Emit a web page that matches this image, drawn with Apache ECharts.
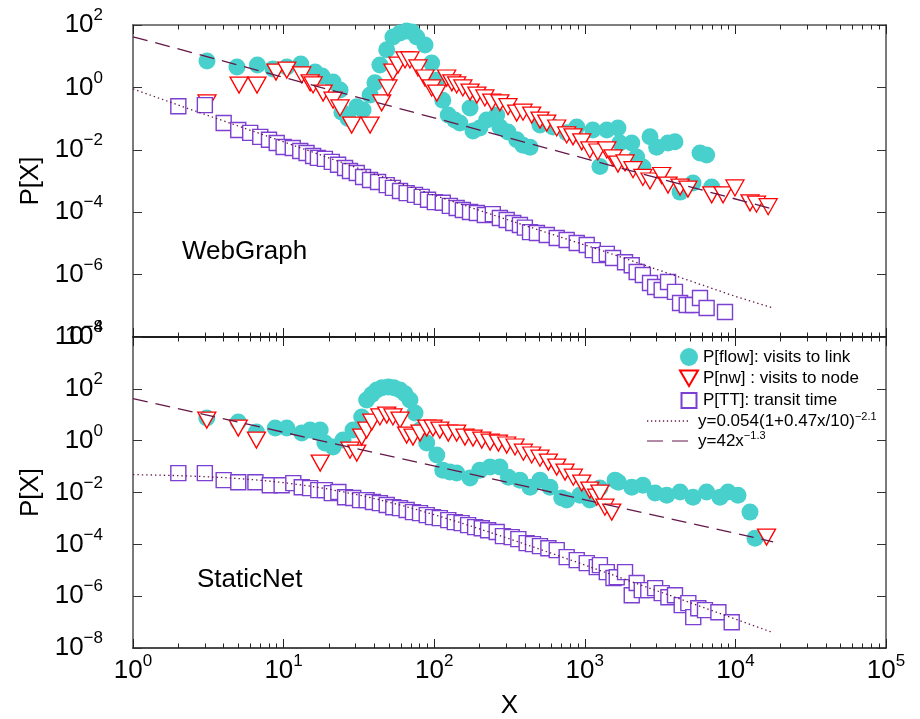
<!DOCTYPE html>
<html>
<head>
<meta charset="utf-8">
<script src="https://cdn.jsdelivr.net/npm/echarts@6/dist/echarts.min.js"></script>
<style>
  html, body { margin: 0; padding: 0; background: #ffffff; }
  #chart { width: 920px; height: 719px; }
</style>
</head>
<body>
<div id="chart"></div>
<script>
// ---------------------------------------------------------------
// Data: [X, P[X]] pairs for each distribution
// ---------------------------------------------------------------

// WebGraph panel
const flowWeb = [
  [3.1,7.0],[4.9,4.5],[6.7,5.2],[8.5,3.9],[10.5,4.5],[13,5.6],[16.2,3.1],[18,2.3],[21.3,1.5],[23.7,0.83],
  [24.4,0.16],[26.8,0.10],[30.6,0.24],[33.7,0.19],[37.5,0.57],[40.4,1.4],[43.6,5.2],[48.4,16],[53.2,41],[59.3,55],
  [65.6,64],[71.2,60],[76.5,41],[86.9,23],[96.2,6.0],[104,1.7],[114,0.39],[124,0.13],[137,0.090],[148,0.072],
  [173,0.22],[181,0.040],[201,0.050],[223,0.090],[260,0.13],[273,0.054],[309,0.037],[353,0.021],[389,0.014],[433,0.012],
  [504,0.062],[615,0.054],[758,0.035],[884,0.054],[1130,0.043],[1260,0.0029],[1400,0.043],[1660,0.050],[1710,0.0165],[2050,0.0165],
  [2210,0.0059],[2430,0.0028],[2710,0.026],[3000,0.012],[3570,0.0165],[3970,0.018],[4290,4.4e-4],[5230,8.6e-4],[5820,0.0079],[6440,0.0068],
  [6960,6.4e-4]
];
const nodeWeb = [
  [3.1,0.32],[5.06,1.19],[6.66,1.19],[8.9,3.1],[10.5,3.6],[13.2,2.5],[15,1.4],[15.7,1.2],[18.3,0.66],[21.3,0.39],
  [23.7,0.22],[28.3,0.062],[37.5,0.062],[44.8,0.32],[49.3,0.96],[53.2,3.1],[57.5,5.2],[64,7.6],[69,7.6],[78,4.2],
  [86.9,2.0],[96.2,0.96],[104,0.66],[121,2.0],[131,1.4],[141,1.2],[155,0.96],[173,0.71],[192,0.57],[217,0.46],
  [241,0.34],[273,0.32],[309,0.24],[353,0.15],[389,0.16],[444,0.13],[504,0.090],[559,0.072],[651,0.050],[758,0.030],
  [835,0.026],[954,0.018],[1080,0.0099],[1220,0.0085],[1400,0.0099],[1540,0.0055],[1660,0.0035],[1850,0.0038],[2090,0.0023],[2430,0.0013],
  [2710,0.0010],[3240,0.0015],[3570,7.4e-4],[4290,6.4e-4],[4840,5.5e-4],[6960,3.6e-4],[8280,3.6e-4],[9930,6.0e-4],[12500,2.0e-4],[13800,1.8e-4],
  [16500,1.5e-4]
];
const transitWeb = [
  [2,0.25],[3,0.27],[4,0.072],[5,0.043],[6,0.035],[7,0.026],[8,0.021],[9,0.0165],[10,0.0123],[11.5,0.0114],
  [12.9,0.0092],[14.2,0.0079],[15.7,0.0063],[16.9,0.0055],[18.8,0.0051],[20.9,0.0041],[23,0.0033],[25.6,0.0026],[27.6,0.0021],[30.6,0.0018],
  [33.7,0.00134],[37.5,0.00108],[42.4,9.3e-4],[48.4,7.4e-4],[53.2,6.0e-4],[59.3,4.8e-4],[65.6,4.1e-4],[74.6,3.6e-4],[82.6,3.1e-4],[91,2.5e-4],
  [101,2.1e-4],[114,2.0e-4],[127,1.6e-4],[141,1.36e-4],[155,1.18e-4],[173,1.01e-4],[192,9.4e-5],[217,8.1e-5],[245,8.7e-5],[273,6.5e-5],
  [303,5.6e-5],[335,4.5e-5],[371,3.9e-5],[400,3.2e-5],[433,2.3e-5],[481,2.15e-5],[559,1.86e-5],[651,1.49e-5],[758,1.29e-5],[884,1.03e-5],
  [1030,8.9e-6],[1130,6.1e-6],[1260,4.2e-6],[1400,4.6e-6],[1540,3.4e-6],[1850,2.5e-6],[2050,2.0e-6],[2210,1.21e-6],[2430,9.7e-7],[2710,5.4e-7],
  [2930,4.0e-7],[3240,3.2e-7],[3570,5.8e-7],[3970,2.8e-7],[4290,1.23e-7],[4750,1.06e-7],[5230,1.06e-7],[5820,1.78e-7],[6440,8.5e-8],[8530,6.3e-8]
];
// transit-time trend drawn through the WebGraph squares
const transitTrendWeb = [[1,0.9],[2,0.27],[10,0.018],[100,3.5e-4],[334,5.0e-5],[1260,6.2e-6],[10000,2.0e-7],[17800,8.5e-8]];

// StaticNet panel
const flowStatic = [
  [3.09,7.5],[5.0,5.2],[6.6,2.15],[8.8,3.06],[10.5,3.06],[13.2,1.96],[15,2.56],[16.6,2.15],[17.5,2.56],[18.8,0.81],
  [21.3,0.57],[24.8,1.05],[28.9,2.56],[33,8.2],[35.6,37],[38.5,60],[41.5,90],[45,110],[49.6,117],[54,110],
  [59.3,90],[64,65],[69,37],[74.6,11.6],[80.5,2.56],[89.2,0.81],[104,0.28],[114,0.073],[127,0.062],[141,0.056],
  [173,0.036],[201,0.073],[235,0.096],[273,0.096],[311,0.039],[371,0.030],[433,0.016],[504,0.030],[587,0.016],[703,0.0061],
  [758,0.0051],[929,0.0079],[1080,0.0051],[1260,0.0148],[1590,0.030],[1670,0.025],[2050,0.016],[2430,0.019],[2930,0.0095],[3500,0.0079],
  [4290,0.0104],[5230,0.0066],[6440,0.0104],[7900,0.0066],[8930,0.0104],[10400,0.0079],[12500,0.00175],[13500,1.73e-4]
];
const nodeStatic = [
  [3.09,6.2],[5.0,3.06],[6.6,1.05],[17.5,0.136],[27.6,0.43],[30.6,0.33],[33,1.38],[35.6,2.56],[38.5,5.2],[43.6,8.2],
  [48.4,9.7],[53.2,8.2],[59.3,6.2],[65.6,1.65],[72.3,1.38],[80.5,1.96],[89.2,3.06],[98.2,3.06],[109,2.56],[124,1.96],
  [141,1.96],[160,1.38],[181,1.26],[207,1.05],[235,0.88],[267,0.81],[303,0.68],[344,0.57],[391,0.36],[444,0.28],
  [504,0.21],[573,0.149],[651,0.096],[739,0.061],[839,0.039],[954,0.023],[1080,0.0124],[1200,0.0066],[1260,0.0095],[1360,0.0027],
  [1510,0.00175],[16100,1.9e-4]
];
const transitStatic = [
  [2,0.056],[3,0.056],[4,0.030],[5,0.025],[6.5,0.025],[8.1,0.019],[9.7,0.019],[11.6,0.023],[13.2,0.016],[15,0.0148],
  [17,0.0124],[18.8,0.0124],[20.9,0.0095],[23.1,0.0104],[25.6,0.0066],[29,0.0061],[32.2,0.0051],[35.6,0.0051],[39.2,0.0043],[43.6,0.0039],
  [48.4,0.0033],[53.5,0.0027],[59.3,0.0025],[65.6,0.0021],[72.3,0.00175],[80.5,0.0016],[89.2,0.00134],[98.2,0.00112],[109,0.00103],[124,8.6e-4],
  [137,7.2e-4],[152,6.6e-4],[168,5.5e-4],[187,4.6e-4],[207,4.2e-4],[228,3.5e-4],[260,3.0e-4],[286,2.07e-4],[327,1.9e-4],[362,1.59e-4],
  [411,1.11e-4],[453,1.02e-4],[504,8.5e-5],[573,7.1e-5],[651,6.0e-5],[758,3.2e-5],[884,2.45e-5],[1030,1.88e-5],[1200,1.32e-5],[1260,1.57e-5],
  [1400,8.5e-6],[1550,5.0e-6],[1630,5.4e-6],[1850,8.5e-6],[2050,1.09e-6],[2210,3.2e-6],[2390,1.71e-6],[2640,1.71e-6],[2930,2.04e-6],[3240,1.31e-6],
  [3590,9.1e-7],[3970,1.09e-6],[4400,4.5e-7],[4870,5.4e-7],[5250,1.55e-7],[5670,3.4e-7],[6280,2.9e-7],[7710,2.4e-7],[9450,9.9e-8]
];

// Fitted curves as given in the legend
const TT_FIT = { a: 0.054, b: 0.47, c: 10, p: -2.1 };   // y = a(1 + b x / c)^p
const POW_FIT = { a: 42, p: -1.3 };                      // y = a x^p
const fitSampleX = [1,1.5,2,3,4,6,8,10,15,20,30,40,60,80,100,150,200,300,500,700,1000,2000,4000,7000,10000,17800];
const powerFitX = [1, 17800];

// Axis ranges
const xRange = [1, 1e5];
const webYRange = [1e-8, 1e2];
const staticYRange = [1e-8, 1e4];
const minorMultipliers = [2,3,4,5,6,7,8,9];

// Legend entries
const NAME_FLOW = 'P[flow]: visits to link';
const NAME_NW = 'P[nw] : visits to node';
const NAME_TT = 'P[TT]: transit time';
const NAME_FIT_TT = 'y=0.054(1+0.47x/10)^-2.1';
const NAME_FIT_POW = 'y=42x^-1.3';
const legendRichText = {};
legendRichText[NAME_FIT_TT] = '{n|y=0.054(1+0.47x/10)}{s|\u22122.1}';
legendRichText[NAME_FIT_POW] = '{n|y=42x}{s|\u22121.3}';

// ---------------------------------------------------------------
const FONT = '"Liberation Sans", Arial, Helvetica, sans-serif';
const C_FLOW = '#48d1cc';
const C_NW = '#ff0000';
const C_TT = '#7b3fd1';
const C_FIT = '#641848';
const FRAME_SIDE = '#7a7a7a';
const FRAME_TOP = '#555555';
const FRAME_BASE = '#111111';

const transitFitStatic = fitSampleX.map(x => [x, TT_FIT.a * Math.pow(1 + TT_FIT.b * x / TT_FIT.c, TT_FIT.p)]);
const powerFit = powerFitX.map(x => [x, POW_FIT.a * Math.pow(x, POW_FIT.p)]);

const minorLogTicks = [];
for (let k = 0; k < 5; k++) minorMultipliers.forEach(m => minorLogTicks.push(k + Math.log10(m)));

// Legend keys for the fitted lines: short strokes in a 41x18 box
function strokeIcon(segments, h) {
  let p = 'path://M0,0M41,18';
  segments.forEach(([x0, w]) => { p += 'M' + x0 + ',' + (9 - h / 2) + 'h' + w + 'v' + h + 'h' + (-w) + 'z'; });
  return p;
}
const dottedSegs = [];
for (let i = 0; i <= 10; i++) dottedSegs.push([i * 4, 1.3]);
const ICON_DOTTED = strokeIcon(dottedSegs, 1.3);
const ICON_DASHED = strokeIcon([[0, 16], [25, 16]], 1.4);

function powerLabel(v) {
  const e = Math.round(Math.log10(v));
  return '{b|10}{s|' + (e < 0 ? '\u2212' + (-e) : String(e)) + '}';
}
const powerRich = {
  b: { fontSize: 26, lineHeight: 36, fontFamily: FONT, color: '#000' },
  s: { fontSize: 17, lineHeight: 17, fontFamily: FONT, color: '#000', verticalAlign: 'top' }
};

function logX(grid, pos, labels, lineColor) {
  const ax = {
    type: 'log', logBase: 10, gridIndex: grid, position: pos, min: xRange[0], max: xRange[1],
    axisLine: { show: true, onZero: false, lineStyle: { color: lineColor, width: 1.5 } },
    axisTick: { show: true, inside: true, length: 9, lineStyle: { color: '#222', width: 1 } },
    splitLine: { show: false },
    axisLabel: { show: false }
  };
  if (labels) {
    ax.axisLabel = { show: true, margin: 5, formatter: powerLabel, rich: powerRich };
    ax.name = 'X';
    ax.nameLocation = 'middle';
    ax.nameGap = 45;
    ax.nameTextStyle = { fontSize: 26, fontFamily: FONT, color: '#000' };
  }
  return ax;
}
function minorX(grid, pos) {
  return {
    type: 'value', gridIndex: grid, position: pos, min: 0, max: 5,
    axisLine: { show: false, onZero: false },
    axisTick: { show: true, inside: true, length: 4.5, customValues: minorLogTicks, lineStyle: { color: '#222', width: 1 } },
    axisLabel: { show: false },
    splitLine: { show: false }
  };
}
function logY(grid, pos, range, labels) {
  const ax = {
    type: 'log', logBase: 10, gridIndex: grid, position: pos, min: range[0], max: range[1], interval: 2,
    axisLine: { show: true, onZero: false, lineStyle: { color: FRAME_SIDE, width: 2 } },
    axisTick: { show: true, inside: true, length: 9, lineStyle: { color: '#333', width: 1 } },
    splitLine: { show: false },
    axisLabel: { show: false }
  };
  if (labels) {
    ax.axisLabel = { show: true, margin: 30, formatter: powerLabel, rich: powerRich, showMinLabel: true, showMaxLabel: true };
    ax.name = 'P[X]';
    ax.nameLocation = 'middle';
    ax.nameGap = 86;
    ax.nameRotate = 90;
    ax.nameTextStyle = { fontSize: 26, fontFamily: FONT, color: '#000' };
  }
  return ax;
}

const TRI = 'path://M0,0L20,0L10,17.3Z';
function circles(name, data, xi, yi) {
  return { type: 'scatter', name, data, xAxisIndex: xi, yAxisIndex: yi, symbol: 'circle', symbolSize: 17,
    itemStyle: { color: C_FLOW, opacity: 1 }, silent: true };
}
function triangles(name, data, xi, yi) {
  return { type: 'scatter', name, data, xAxisIndex: xi, yAxisIndex: yi, symbol: TRI, symbolSize: [18, 16],
    itemStyle: { color: '#ffffff', borderColor: C_NW, borderWidth: 1.3, opacity: 1 }, silent: true };
}
function squares(name, data, xi, yi) {
  return { type: 'scatter', name, data, xAxisIndex: xi, yAxisIndex: yi, symbol: 'rect', symbolSize: 15,
    itemStyle: { color: '#ffffff', borderColor: C_TT, borderWidth: 1.4, opacity: 1 }, silent: true };
}
function fitLine(name, data, xi, yi, dash) {
  return { type: 'line', name, data, xAxisIndex: xi, yAxisIndex: yi, symbol: 'none', showSymbol: false,
    lineStyle: { color: C_FIT, width: 1.3, type: dash }, itemStyle: { color: C_FIT }, silent: true, z: 5 };
}
const DOTTED = [1.4, 3];
const DASHED = [15, 8];

const chart = echarts.init(document.getElementById('chart'), null, { renderer: 'canvas' });
chart.setOption({
  animation: false,
  backgroundColor: '#ffffff',
  textStyle: { fontFamily: FONT },
  grid: [
    { left: 133, top: 25, width: 753, height: 312, outerBoundsMode: 'none' },
    { left: 133, top: 337, width: 753, height: 311, outerBoundsMode: 'none' }
  ],
  xAxis: [
    logX(0, 'bottom', false, FRAME_BASE), minorX(0, 'bottom'), logX(0, 'top', false, FRAME_TOP), minorX(0, 'top'),
    logX(1, 'bottom', true, FRAME_BASE), minorX(1, 'bottom'), logX(1, 'top', false, FRAME_BASE), minorX(1, 'top')
  ],
  yAxis: [
    logY(0, 'left', webYRange, true), logY(0, 'right', webYRange, false),
    logY(1, 'left', staticYRange, true), logY(1, 'right', staticYRange, false)
  ],
  legend: [
    {
      orient: 'vertical', left: 679, top: 348, padding: 0, itemGap: 3.5, itemWidth: 18, itemHeight: 18,
      selectedMode: false,
      data: [NAME_FLOW, NAME_NW, { name: NAME_TT, icon: 'path://M0,0M18,18M1.5,1.5L16.5,1.5L16.5,16.5L1.5,16.5Z' }],
      textStyle: { fontSize: 17, fontFamily: FONT, color: '#000' }
    },
    {
      orient: 'vertical', left: 647, top: 411, padding: 0, itemGap: 1, itemWidth: 41, itemHeight: 18,
      selectedMode: false,
      data: [
        { name: NAME_FIT_TT, icon: ICON_DOTTED, itemStyle: { color: C_FIT, borderWidth: 0 } },
        { name: NAME_FIT_POW, icon: ICON_DASHED, itemStyle: { color: '#9a6488', borderWidth: 0 } }
      ],
      formatter: n => legendRichText[n] || n,
      textStyle: {
        fontSize: 17, fontFamily: FONT, color: '#000', padding: [0, 0, 0, 5],
        rich: {
          n: { fontSize: 17, lineHeight: 20, fontFamily: FONT, color: '#000' },
          s: { fontSize: 11, lineHeight: 11, fontFamily: FONT, color: '#000', verticalAlign: 'top' }
        }
      }
    }
  ],
  graphic: [
    { type: 'text', left: 182, top: 239, style: { text: 'WebGraph', font: '26px ' + FONT, fill: '#000' } },
    { type: 'text', left: 197, top: 567, style: { text: 'StaticNet', font: '26px ' + FONT, fill: '#000' } }
  ],
  series: [
    circles(NAME_FLOW, flowWeb, 0, 0),
    circles(NAME_FLOW, flowStatic, 4, 2),
    triangles(NAME_NW, nodeWeb, 0, 0),
    triangles(NAME_NW, nodeStatic, 4, 2),
    squares(NAME_TT, transitWeb, 0, 0),
    squares(NAME_TT, transitStatic, 4, 2),
    fitLine('transit trend', transitTrendWeb, 0, 0, DOTTED),
    fitLine(NAME_FIT_TT, transitFitStatic, 4, 2, DOTTED),
    fitLine(NAME_FIT_POW, powerFit, 0, 0, DASHED),
    fitLine(NAME_FIT_POW, powerFit, 4, 2, DASHED)
  ]
});
</script>
</body>
</html>
